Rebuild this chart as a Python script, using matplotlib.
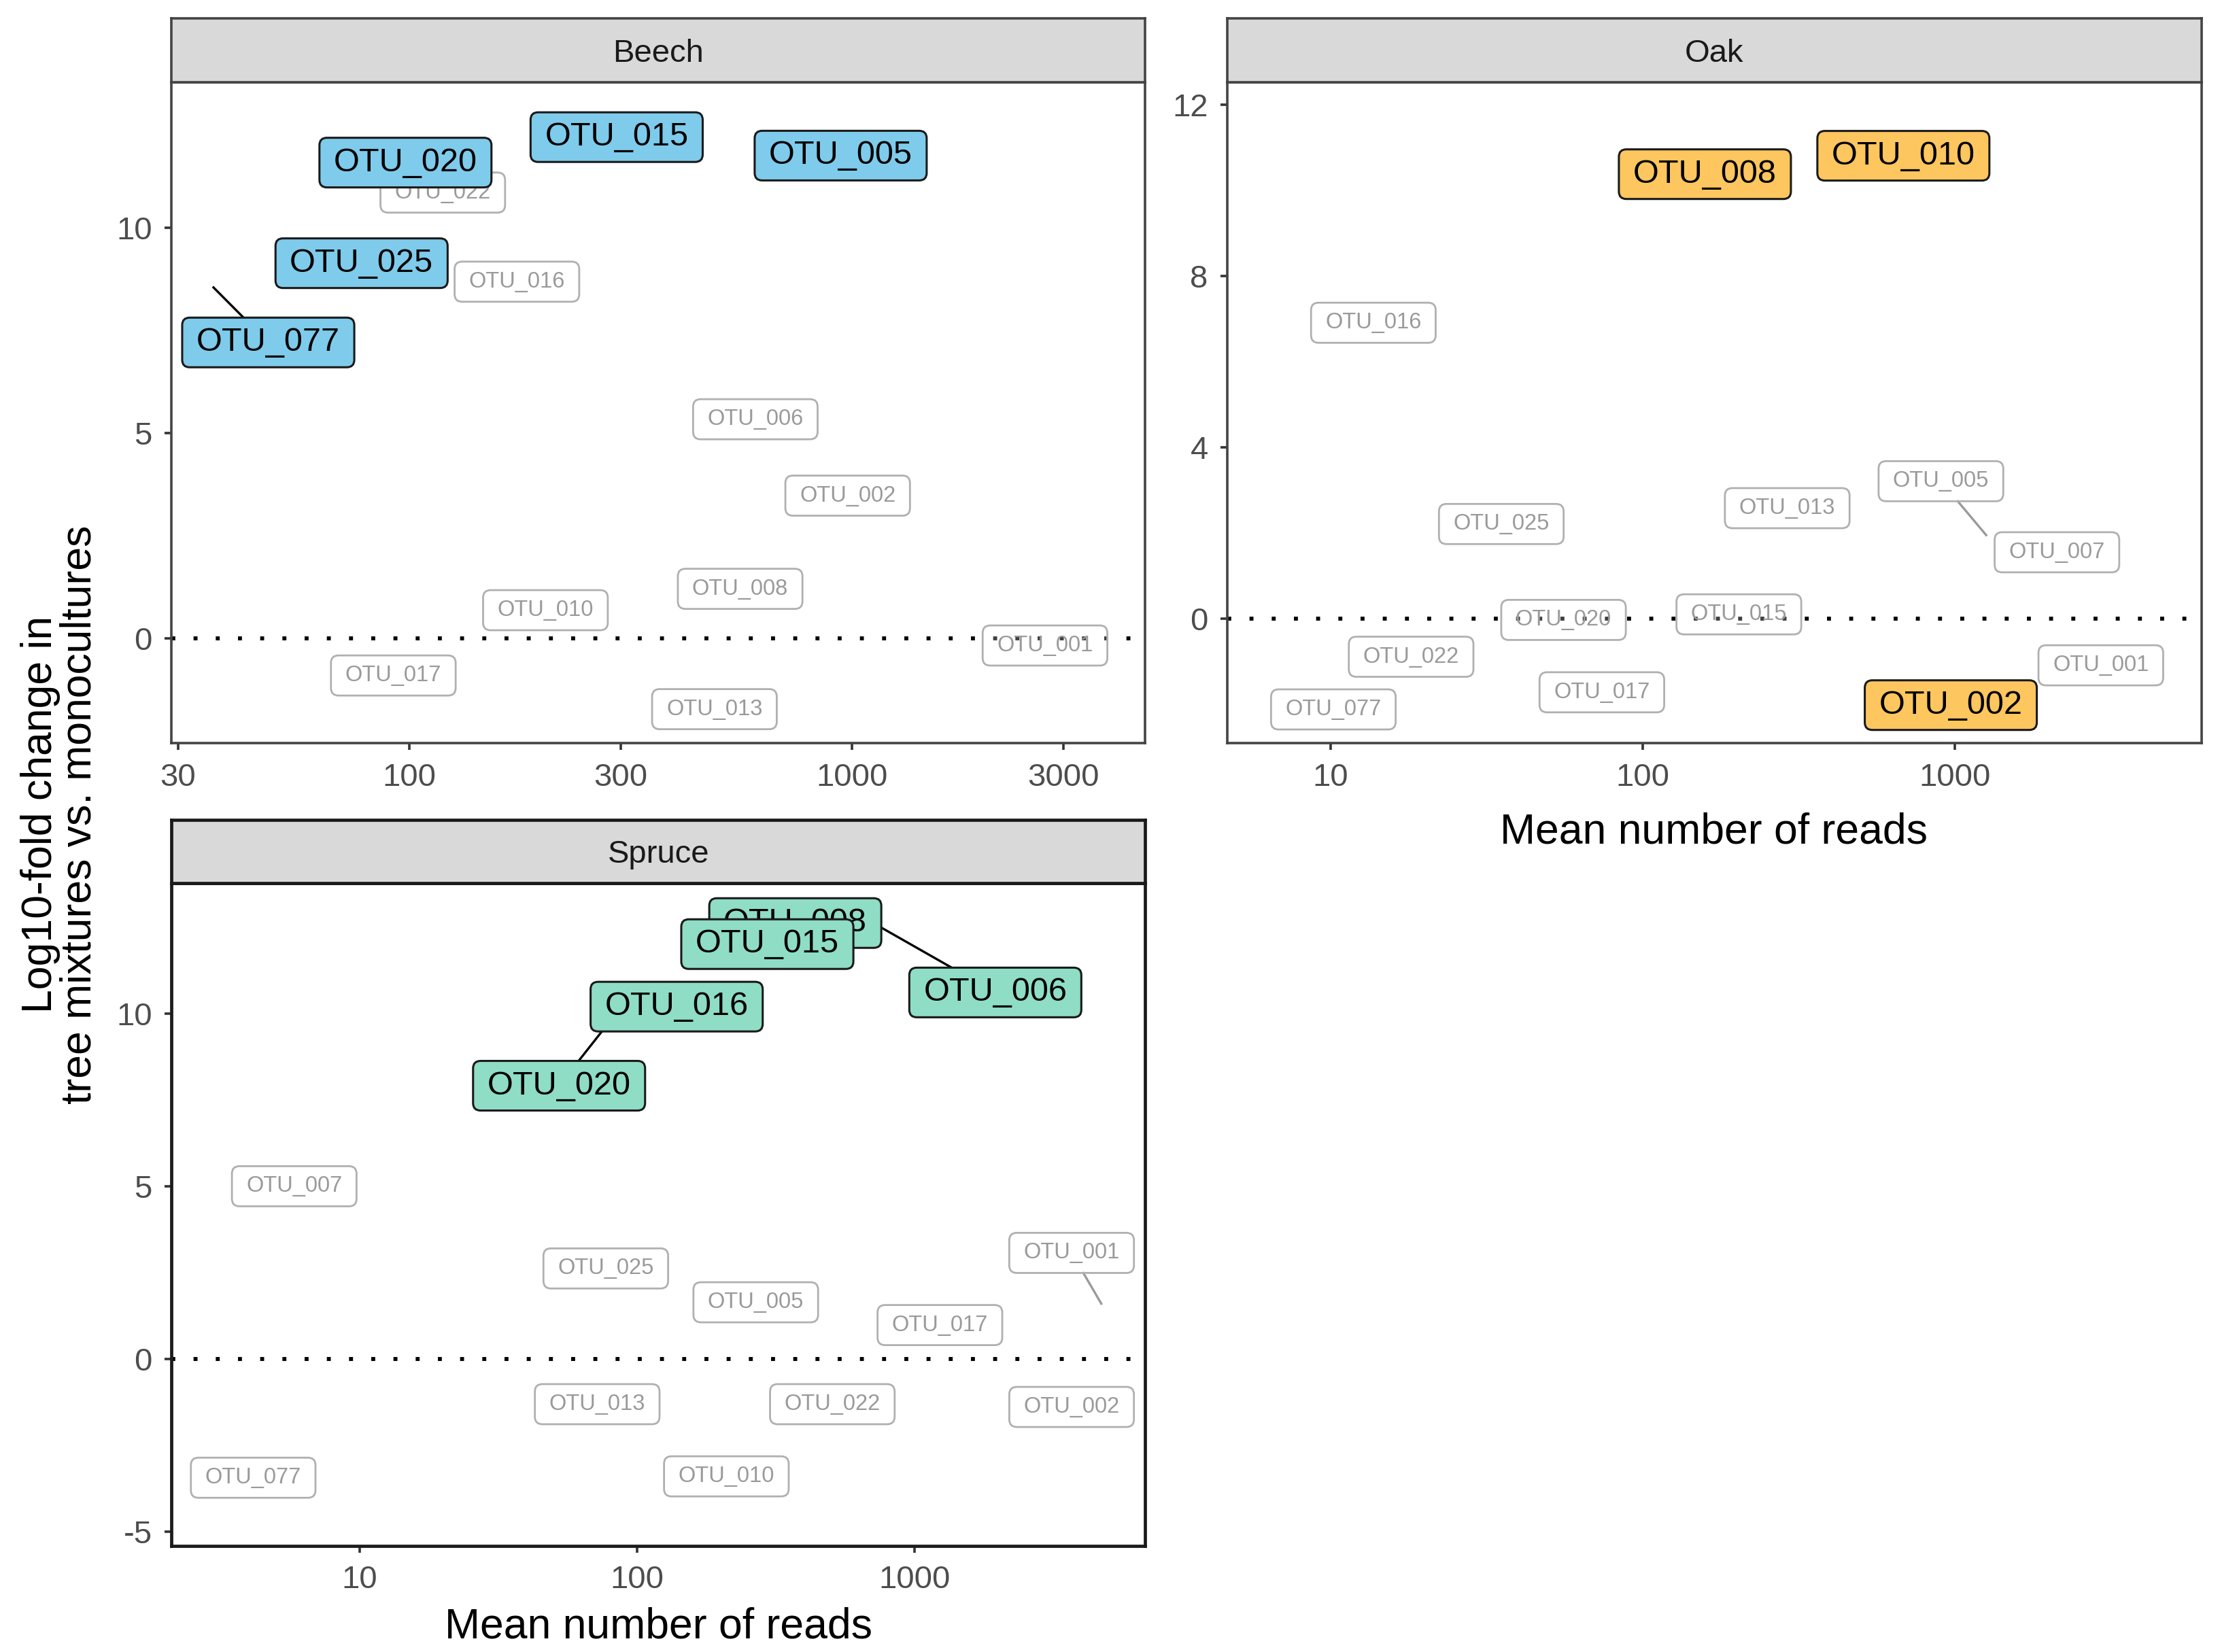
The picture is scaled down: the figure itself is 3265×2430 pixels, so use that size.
import numpy as np
import matplotlib.pyplot as plt
from matplotlib.patches import FancyBboxPatch
from matplotlib.lines import Line2D
from matplotlib.transforms import IdentityTransform

plt.rcParams['font.family'] = ['Liberation Sans', 'DejaVu Sans']

# ---- data: label positions (mean reads, log10 fold change) ----
beech_otu = ['OTU_022', 'OTU_016', 'OTU_006', 'OTU_002', 'OTU_008', 'OTU_010', 'OTU_001',
             'OTU_017', 'OTU_013', 'OTU_020', 'OTU_015', 'OTU_005', 'OTU_025', 'OTU_077']
beech_reads = [119, 175, 605, 978, 559, 203, 2730, 92, 489, 98, 294, 943, 78, 48]
beech_lfc = [10.86, 8.69, 5.34, 3.48, 1.21, 0.69, -0.17, -0.90, -1.72, 11.59, 12.21, 11.76, 9.14, 7.21]
beech_hit = [False] * 9 + [True] * 5
beech_seg_otu = ['OTU_077']
beech_seg_reads = [36.1]
beech_seg_lfc = [8.55]

oak_otu = ['OTU_016', 'OTU_005', 'OTU_007', 'OTU_013', 'OTU_025', 'OTU_020', 'OTU_015',
           'OTU_022', 'OTU_001', 'OTU_017', 'OTU_077', 'OTU_008', 'OTU_010', 'OTU_002']
oak_reads = [13.7, 901, 2120, 290, 35.2, 55.7, 203, 18.1, 2930, 73.9, 10.2, 158, 683, 969]
oak_lfc = [6.91, 3.21, 1.55, 2.58, 2.21, -0.03, 0.10, -0.89, -1.09, -1.72, -2.12, 10.38, 10.81, -2.02]
oak_hit = [False] * 11 + [True] * 3
oak_seg_otu = ['OTU_005']
oak_seg_reads = [1258]
oak_seg_lfc = [1.95]

spruce_otu = ['OTU_007', 'OTU_025', 'OTU_005', 'OTU_017', 'OTU_001', 'OTU_013', 'OTU_022',
              'OTU_002', 'OTU_077', 'OTU_010', 'OTU_008', 'OTU_015', 'OTU_006', 'OTU_016', 'OTU_020']
spruce_reads = [5.82, 77.2, 268, 1235, 3684, 71.9, 506, 3684, 4.14, 210, 372, 295, 1956, 139, 52.4]
spruce_lfc = [5.0, 2.62, 1.64, 0.98, 3.07, -1.31, -1.31, -1.39, -3.44, -3.40, 12.62, 12.01, 10.61, 10.20, 7.91]
spruce_hit = [False] * 10 + [True] * 5
spruce_seg_otu = ['OTU_001', 'OTU_006', 'OTU_020']
spruce_seg_reads = [4713, 755, 88.9]
spruce_seg_lfc = [1.60, 12.5, 10.25]

panels = [
    dict(name='Beech', otu=beech_otu, x=beech_reads, y=beech_lfc, hit=beech_hit,
         sotu=beech_seg_otu, sx=beech_seg_reads, sy=beech_seg_lfc, color='#7FCBEB',
         pos=[0.0772, 0.5501, 0.4387, 0.4002], xlim=(29, 4600), ylim=(-2.55, 13.55),
         xt=[30, 100, 300, 1000, 3000], yt=[0, 5, 10], lw=2.6, ec='#444444'),
    dict(name='Oak', otu=oak_otu, x=oak_reads, y=oak_lfc, hit=oak_hit,
         sotu=oak_seg_otu, sx=oak_seg_reads, sy=oak_seg_lfc, color='#FEC65E',
         pos=[0.5529, 0.5501, 0.4387, 0.4002], xlim=(4.67, 6150), ylim=(-2.91, 12.53),
         xt=[10, 100, 1000], yt=[0, 4, 8, 12], lw=2.6, ec='#444444'),
    dict(name='Spruce', otu=spruce_otu, x=spruce_reads, y=spruce_lfc, hit=spruce_hit,
         sotu=spruce_seg_otu, sx=spruce_seg_reads, sy=spruce_seg_lfc, color='#8FDDC4',
         pos=[0.0772, 0.0643, 0.4387, 0.4010], xlim=(2.1, 6790), ylim=(-5.41, 13.77),
         xt=[10, 100, 1000], yt=[-5, 0, 5, 10], lw=3.4, ec='#1a1a1a'),
]

fig = plt.figure(figsize=(32.65, 24.30), dpi=100)

strip_h = 0.0386
texts = []
for p in panels:
    ax = fig.add_axes(p['pos'])
    ax.set_xscale('log')
    ax.set_xlim(*p['xlim'])
    ax.set_ylim(*p['ylim'])
    ax.set_xticks(p['xt'], labels=[str(v) for v in p['xt']])
    ax.set_yticks(p['yt'], labels=[str(v) for v in p['yt']])
    ax.minorticks_off()
    ax.tick_params(length=7.5, width=2.6, color='#333333', labelcolor='#4d4d4d',
                   labelsize=34, pad=13)
    for s in ax.spines.values():
        s.set_linewidth(p['lw'])
        s.set_color(p['ec'])
    ax.axhline(0, color='black', lw=4.2, ls=(0, (1, 4.6)), zorder=2)

    # facet strip
    l, b, w, h = p['pos']
    sax = fig.add_axes([l, b + h, w, strip_h])
    sax.set_facecolor('#d9d9d9')
    sax.set_xticks([])
    sax.set_yticks([])
    for s in sax.spines.values():
        s.set_linewidth(p['lw'])
        s.set_color(p['ec'])
    sax.text(0.5, 0.45, p['name'], ha='center', va='center', fontsize=34,
             color='#1a1a1a', transform=sax.transAxes)

    for i, (name, xv, yv, hit) in enumerate(zip(p['otu'], p['x'], p['y'], p['hit'])):
        z = (6 if hit else 3) + i * 0.02
        t = ax.text(xv, yv, name, ha='center', va='center',
                    fontsize=35 if hit else 23.5,
                    color='black' if hit else '#9a9a9a', zorder=z + 0.01)
        texts.append((ax, p, t, name, hit, z))

fig.text(0.027, 0.507, 'Log10-fold change in\ntree mixtures vs. monocultures',
         rotation=90, ha='center', va='center', fontsize=45, linespacing=0.95)
fig.text(0.772, 0.4963, 'Mean number of reads', ha='center', va='center', fontsize=45)
fig.text(0.2966, 0.0154, 'Mean number of reads', ha='center', va='center', fontsize=45)

# label boxes (ggrepel style) drawn around the rendered text
fig.canvas.draw()
renderer = fig.canvas.get_renderer()
padx, pady = 21, 14
boxes = {}
for ax, p, t, name, hit, z in texts:
    bb = t.get_window_extent(renderer)
    x0, y0 = bb.x0 - padx, bb.y0 - pady
    x1, y1 = bb.x1 + padx, bb.y1 + pady
    if hit:
        patch = FancyBboxPatch((x0, y0), x1 - x0, y1 - y0,
                               boxstyle='round,pad=0,rounding_size=11',
                               transform=IdentityTransform(), facecolor=p['color'],
                               edgecolor='#1a1a1a', lw=2.2, zorder=z)
    else:
        patch = FancyBboxPatch((x0, y0), x1 - x0, y1 - y0,
                               boxstyle='round,pad=0,rounding_size=11',
                               transform=IdentityTransform(), facecolor=(1, 1, 1, 0.25),
                               edgecolor='#b0b0b0', lw=2.0, zorder=z)
    ax.add_artist(patch)
    boxes[(p['name'], name)] = (x0, y0, x1, y1, hit, ax)


def box_entry(px, py, cx, cy, x0, y0, x1, y1):
    dx, dy = cx - px, cy - py
    ts = []
    if dx != 0:
        for xb in (x0, x1):
            tt = (xb - px) / dx
            yy = py + tt * dy
            if 0 <= tt <= 1 and y0 <= yy <= y1:
                ts.append(tt)
    if dy != 0:
        for yb in (y0, y1):
            tt = (yb - py) / dy
            xx = px + tt * dx
            if 0 <= tt <= 1 and x0 <= xx <= x1:
                ts.append(tt)
    tt = min(ts) if ts else 0
    return px + tt * dx, py + tt * dy


for p in panels:
    for name, sx, sy in zip(p['sotu'], p['sx'], p['sy']):
        x0, y0, x1, y1, hit, ax = boxes[(p['name'], name)]
        px, py = ax.transData.transform((sx, sy))
        cx, cy = (x0 + x1) / 2, (y0 + y1) / 2
        ex, ey = box_entry(px, py, cx, cy, x0, y0, x1, y1)
        ln = Line2D([px, ex], [py, ey], transform=IdentityTransform(),
                    color='black' if hit else '#9a9a9a', lw=2.4, zorder=2.5)
        ax.add_artist(ln)

fig.savefig('out.png', dpi=100, facecolor='white')
